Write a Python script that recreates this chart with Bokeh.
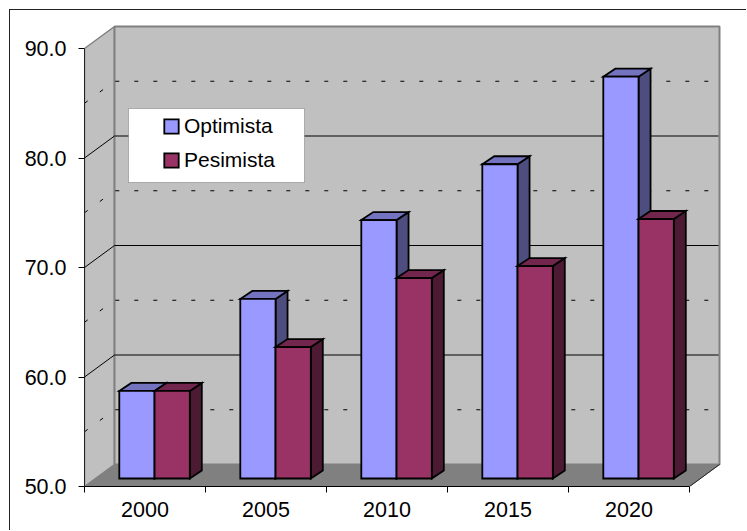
from bokeh.embed import file_html
from bokeh.models import BoxAnnotation, FixedTicker, Legend, LegendItem
from bokeh.plotting import figure
from bokeh.resources import INLINE

years = ["2000", "2005", "2010", "2015", "2020"]
optimista = [58.0, 66.4, 73.6, 78.7, 86.7]
pesimista = [58.0, 62.0, 68.3, 69.4, 73.7]
value_ticks = [50, 60, 70, 80, 90]
minor_values = [55, 65, 75, 85]

# The figure sits inside a frame drawn as its own left and top border.
INSET = 10
W, H = 747 - INSET, 531 - INSET

# Screen scale of the plot: pixels per category and per unit of value.
PX_X = 121.0
PX_Y = 10.95
LEFT = 84 - INSET
BOTTOM = 45


def dx(px):
    return px / PX_X


def dy(px):
    return px / PX_Y


# Oblique projection of the chart box and of each bar.
WALL_DX, WALL_DY = dx(30), dy(22)
BAR_DX, BAR_DY = dx(12), dy(8)
BAR_LEFT, BAR_W = dx(34.8), dx(35.25)
BASE = 50 + BAR_DY

p = figure(
    width=W, height=H, output_backend="svg", toolbar_location=None,
    x_range=(0, (W - LEFT) / PX_X), y_range=(50, 50 + (H - BOTTOM) / PX_Y),
    min_border_left=LEFT, min_border_bottom=BOTTOM, min_border_top=0, min_border_right=0,
    background_fill_color="white", border_fill_color="white", outline_line_color=None,
)
p.margin = (INSET - 1, 0, 0, INSET - 1)
p.styles = {"border-left": "1px solid #222222", "border-top": "1px solid #222222"}
p.grid.visible = False
n = len(years)
vmin, vmax = value_ticks[0], value_ticks[-1]

# Floor, side wall and back wall.
p.patch([0, n, n + WALL_DX, WALL_DX], [vmin, vmin, vmin + WALL_DY, vmin + WALL_DY],
        fill_color="#808080", line_color="#808080", line_width=1)
p.patch([0, WALL_DX, WALL_DX, 0], [vmin, vmin + WALL_DY, vmax + WALL_DY, vmax],
        fill_color="#C0C0C0", line_color="#808080", line_width=1.5)
p.quad(left=[WALL_DX], right=[n + WALL_DX], bottom=[vmin + WALL_DY], top=[vmax + WALL_DY],
       fill_color="#C0C0C0", line_color="#808080", line_width=2)
p.line([n, n + WALL_DX], [vmin, vmin + WALL_DY], line_color="#222222", line_width=1)

# Gridlines wrap from the side wall onto the back wall.
major = value_ticks[1:-1]
p.multi_line([[0, WALL_DX, n + WALL_DX - dx(1)] for _ in major],
             [[v, v + WALL_DY, v + WALL_DY] for v in major],
             line_color="black", line_width=1)
p.multi_line([[0, WALL_DX, n + WALL_DX - dx(1)] for _ in minor_values],
             [[v, v + WALL_DY, v + WALL_DY] for v in minor_values],
             line_color="black", line_width=1, line_dash="4 15")


def draw_series(values, offset, front, top, side):
    lefts = [i + BAR_LEFT + offset for i in range(n)]
    rights = [x + BAR_W for x in lefts]
    tops = [v + BAR_DY for v in values]
    style = dict(line_color="black", line_width=1.8, line_join="miter")
    p.patches([[r, r + BAR_DX, r + BAR_DX, r] for r in rights],
              [[BASE, BASE + BAR_DY, t + BAR_DY, t] for t in tops],
              fill_color=side, **style)
    p.patches([[l, l + BAR_DX, r + BAR_DX, r] for l, r in zip(lefts, rights)],
              [[t, t + BAR_DY, t + BAR_DY, t] for t in tops],
              fill_color=top, **style)
    return p.quad(left=lefts, right=rights, bottom=BASE, top=tops, fill_color=front, **style)


r_opt = draw_series(optimista, 0, "#9999FF", "#7373BF", "#4D4D80")
r_pes = draw_series(pesimista, BAR_W, "#993366", "#73264D", "#4D1A33")

# Value axis.
yax = p.yaxis[0]
yax.ticker = FixedTicker(ticks=value_ticks)
yax.bounds = (vmin, vmax)
yax.major_label_overrides = {v: f"{v:.1f}" for v in value_ticks}
yax.major_tick_out, yax.major_tick_in = 6, 0
yax.minor_tick_line_color = None
yax.major_label_standoff = 12
yax.major_label_text_font = "Liberation Sans"
yax.major_label_text_font_size = "21.5px"
yax.major_label_text_color = "black"
yax.axis_line_color = "#222222"

# Category axis: ticks between the groups, labels at their centres.
centres = [i + 0.5 for i in range(n)]
xax = p.xaxis[0]
xax.ticker = FixedTicker(ticks=centres, minor_ticks=list(range(n + 1)))
xax.bounds = (0, n)
xax.major_label_overrides = dict(zip(centres, years))
xax.major_tick_line_color = None
xax.minor_tick_out, xax.minor_tick_in = 6, 0
xax.minor_tick_line_color = "black"
xax.major_label_standoff = 9
xax.major_label_text_font = "Liberation Sans"
xax.major_label_text_font_size = "21.5px"
xax.major_label_text_color = "black"
xax.axis_line_color = "black"

# Legend panel and its entries.
p.add_layout(BoxAnnotation(left=127 - INSET, right=303 - INSET, top=107 - INSET, bottom=181 - INSET,
                           left_units="canvas", right_units="canvas",
                           top_units="canvas", bottom_units="canvas",
                           fill_color="white", fill_alpha=1,
                           line_color="#333333", line_width=1))
legend = Legend(
    items=[LegendItem(label="Optimista", renderers=[r_opt]),
           LegendItem(label="Pesimista", renderers=[r_pes])],
    location=(78, 314), orientation="vertical",
    background_fill_alpha=0, border_line_color=None,
    padding=0, margin=0, spacing=10, label_standoff=4,
    glyph_width=18, glyph_height=18,
    label_text_font="Liberation Sans", label_text_font_size="21px",
    label_text_color="black",
)
p.add_layout(legend)

open("out.html", "w").write(file_html(p, INLINE))
